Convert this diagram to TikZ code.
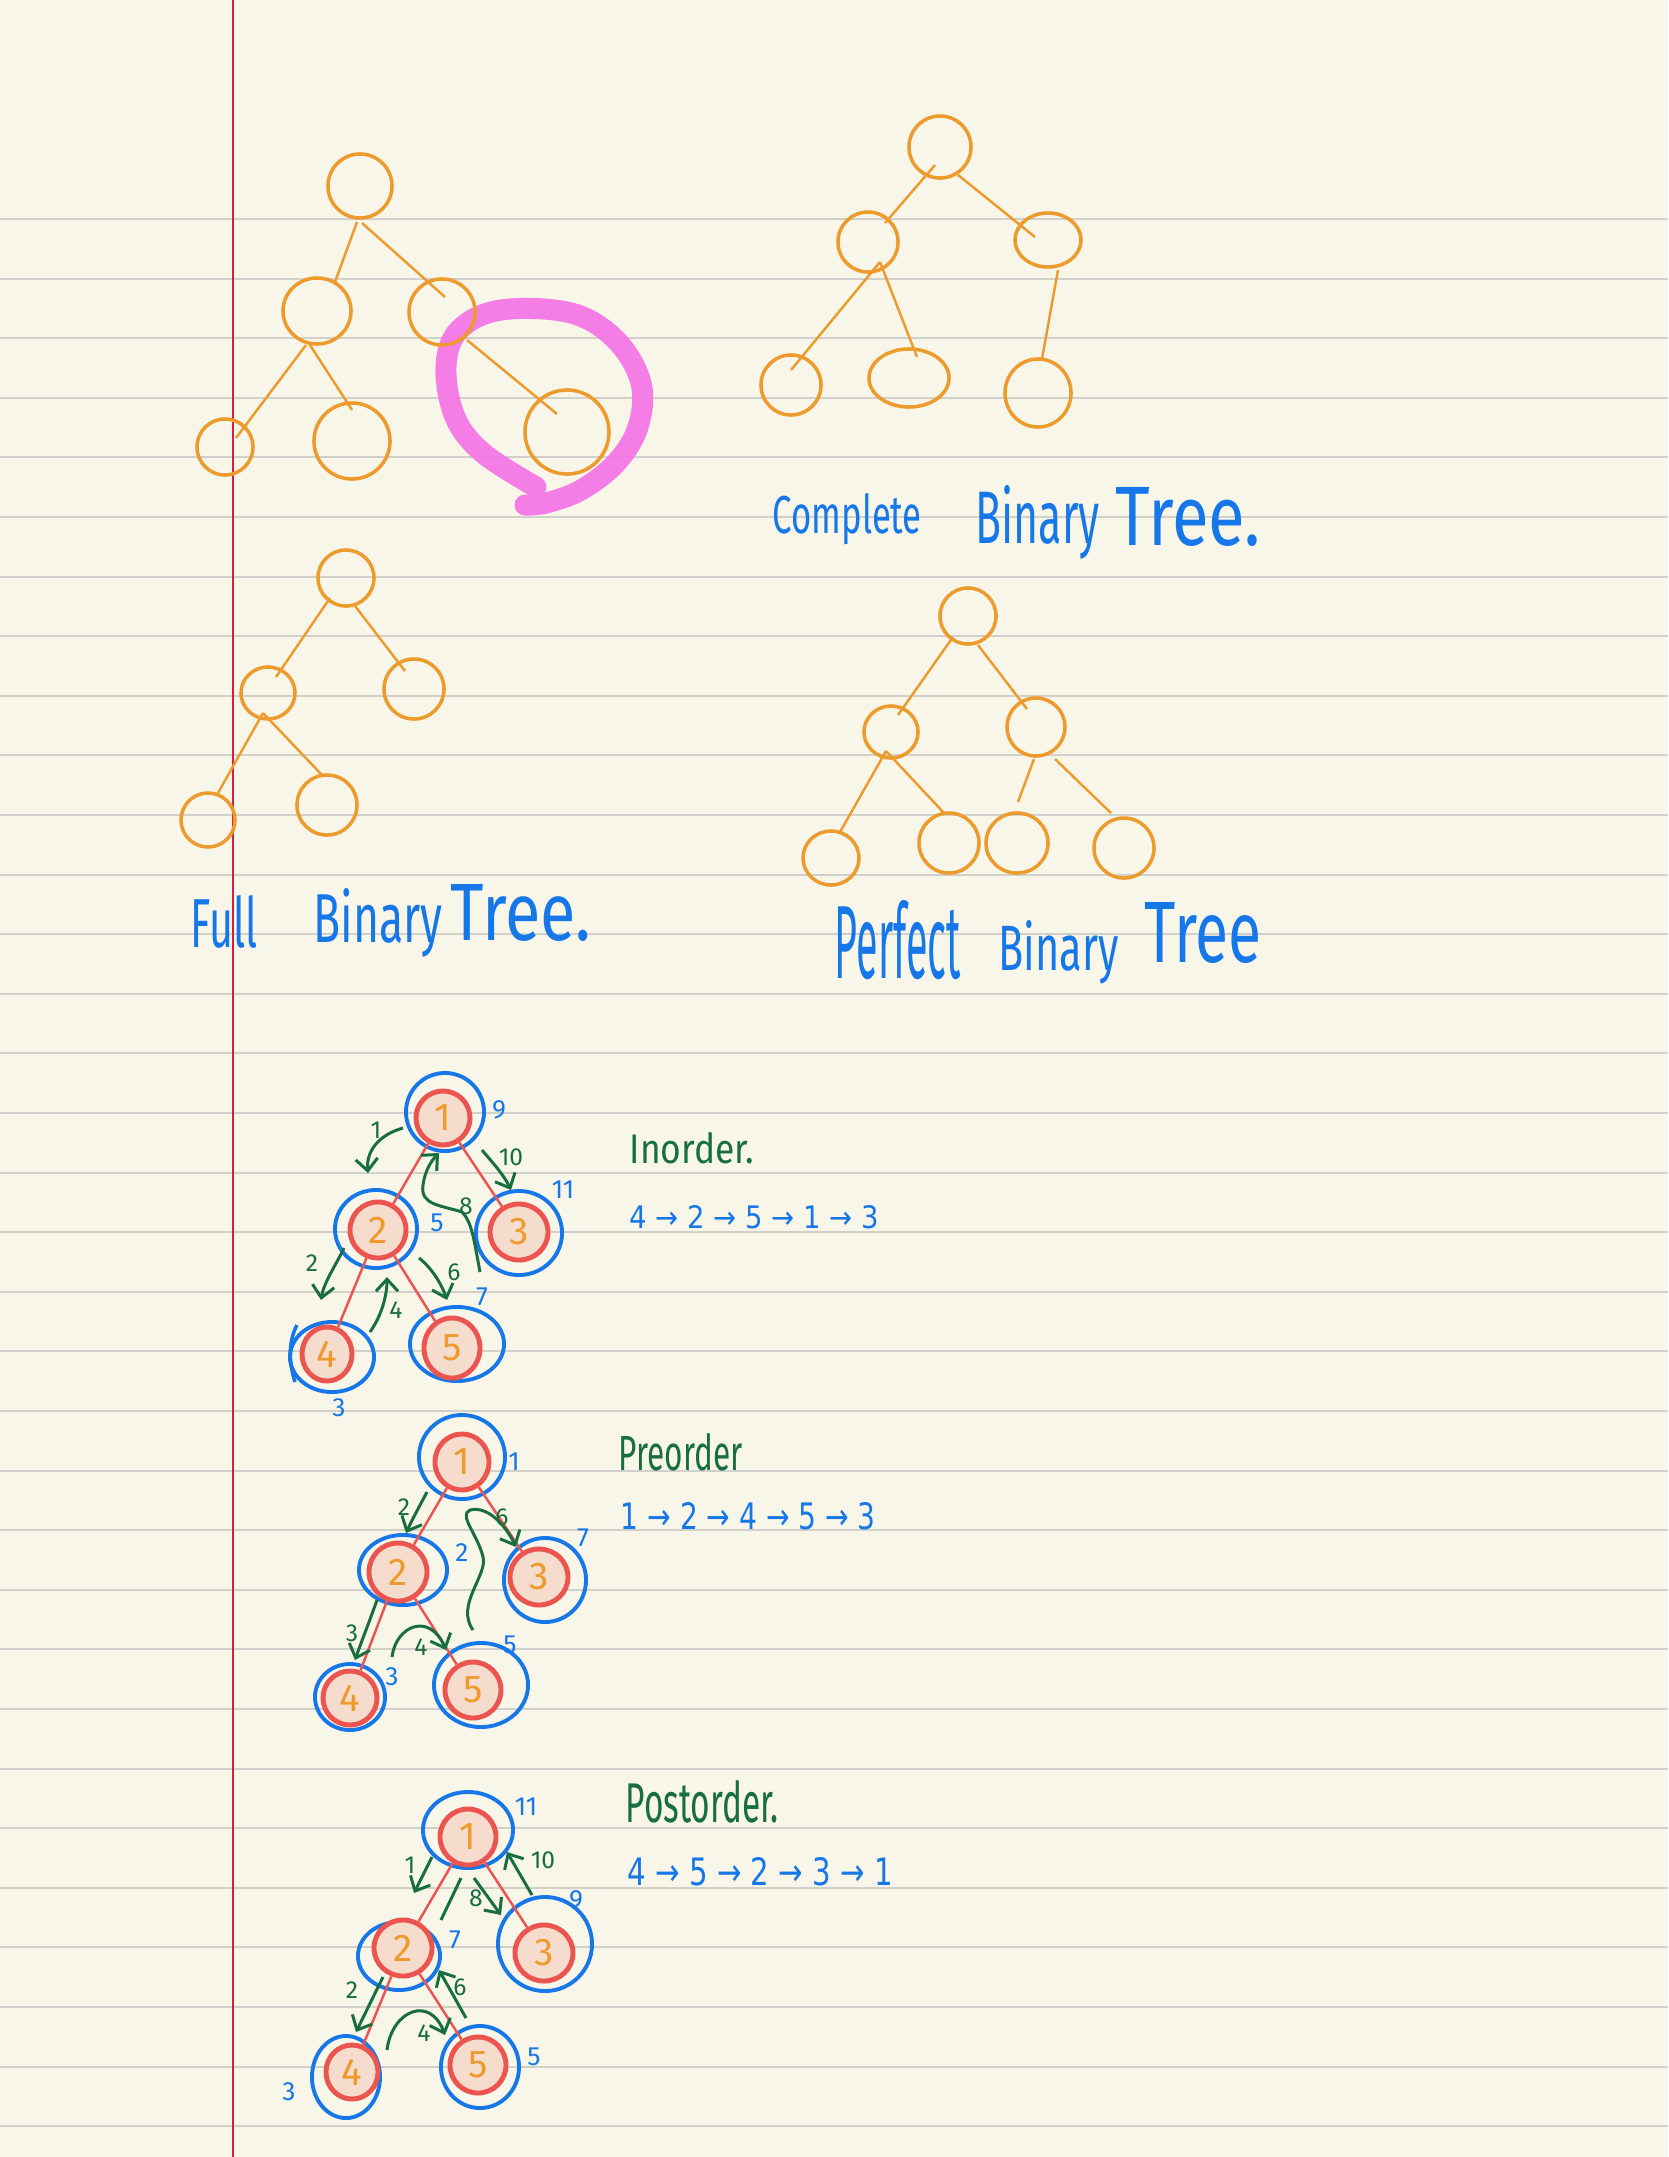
\documentclass[tikz,border=0pt]{standalone}
\usepackage{fontspec}
\usetikzlibrary{shapes.geometric,arrows.meta}
\newfontfamily\hand{Fira Sans}
\newfontfamily\arrfont{DejaVu Sans}
\definecolor{bg}{RGB}{248,245,233}
\definecolor{rulec}{RGB}{210,208,203}
\definecolor{marginc}{RGB}{214,30,62}
\definecolor{orc}{RGB}{238,155,45}
\definecolor{bluec}{RGB}{22,119,232}
\definecolor{greenc}{RGB}{24,110,62}
\definecolor{redc}{RGB}{236,84,80}
\definecolor{peach}{RGB}{246,220,204}
\definecolor{pinkc}{RGB}{244,115,230}
\tikzset{
  onode/.style 2 args={ellipse, draw=orc, line width=1pt, minimum width=#1*0.02cm, minimum height=#2*0.02cm, inner sep=0pt},
  oedge/.style={draw=orc, line width=0.7pt},
  rnode/.style 2 args={ellipse, draw=redc, fill=peach, line width=1.4pt, minimum width=#1*0.02cm, minimum height=#2*0.02cm, inner sep=0pt, text=orc, font=\hand\fontsize{11}{11}\selectfont},
  bnode/.style 2 args={ellipse, draw=bluec, line width=1.1pt, minimum width=#1*0.02cm, minimum height=#2*0.02cm, inner sep=0pt},
  redge/.style={draw=redc, line width=0.7pt},
  garrow/.style={draw=greenc, line width=0.85pt, -{Straight Barb[length=1.2mm,width=2.2mm]}},
  gline/.style={draw=greenc, line width=0.85pt},
  bl/.style={text=bluec, font=\hand\fontsize{7.5}{7.5}\selectfont, inner sep=0pt},
  gl/.style={text=greenc, font=\hand\fontsize{7}{7}\selectfont, inner sep=0pt},
  txt/.style={anchor=base west, inner sep=0pt},
}
\begin{document}
\begin{tikzpicture}[x=0.01cm,y=-0.01cm]
\useasboundingbox (0,0) rectangle (1668,2157);
\fill[bg] (0,0) rectangle (1668,2157);
% ruled lines
\foreach \k in {0,...,32}{
  \draw[rulec, line width=0.6pt] (0,{219+\k*59.6}) -- (1668,{219+\k*59.6});
}
\draw[marginc, line width=0.6pt] (233,0) -- (233,2157);

% pink highlight loop
\draw[pinkc, line width=0.21cm, line cap=round, line join=round, opacity=0.92]
  plot[smooth, tension=0.6] coordinates {(536,487) (483,453) (455,417) (446,367) (459,330) (501,310) (571,313) (616,340) (641,383) (638,427) (616,463) (581,490) (546,503) (525,505)};

% ---------- Tree 1 ----------
\node[onode={32}{32}] (A1) at (360,186) {};
\node[onode={34}{33}] (B1) at (317,311) {};
\node[onode={33}{33}] (C1) at (442,312) {};
\node[onode={28}{28}] (D1) at (225,447) {};
\node[onode={38}{38}] (E1) at (352,441) {};
\node[onode={42}{42}] (F1) at (567,432) {};
\draw[oedge] ([shift={(-3,36)}]A1.center) -- ([shift={(18,-29)}]B1.center);
\draw[oedge] ([shift={(2,37)}]A1.center) -- ([shift={(3,-15)}]C1.center);
\draw[oedge] ([shift={(-11,34)}]B1.center) -- ([shift={(11,-9)}]D1.center);
\draw[oedge] ([shift={(-7,34)}]B1.center) -- ([shift={(0,-31)}]E1.center);
\draw[oedge] ([shift={(25,28)}]C1.center) -- ([shift={(-10,-18)}]F1.center);

% ---------- Tree 2 (complete) ----------
\node[onode={31}{31}] (A2) at (940,147) {};
\node[onode={30}{30}] (B2) at (868,242) {};
\node[onode={33}{27}] (C2) at (1048,240) {};
\node[onode={30}{30}] (D2) at (791,385) {};
\node[onode={40}{29}] (E2) at (909,378) {};
\node[onode={33}{34}] (F2) at (1038,393) {};
\draw[oedge] ([shift={(-5,18)}]A2.center) -- ([shift={(17,-19)}]B2.center);
\draw[oedge] ([shift={(18,28)}]A2.center) -- ([shift={(-13,-3)}]C2.center);
\draw[oedge] ([shift={(12,20)}]B2.center) -- ([shift={(0,-15)}]D2.center);
\draw[oedge] ([shift={(12,20)}]B2.center) -- ([shift={(8,-21)}]E2.center);
\draw[oedge] ([shift={(10,30)}]C2.center) -- ([shift={(4,-34)}]F2.center);
\node[txt, text=bluec] (tc1) at (772,533) {\resizebox{1.49cm}{0.40cm}{\hand Complete}};
\node[txt, text=bluec] (tc2) at (975,543) {\resizebox{1.24cm}{0.58cm}{\hand Binary}};
\node[txt, text=bluec] (tc3) at (1115,545) {\resizebox{1.45cm}{0.58cm}{\hand Tree.}};

% ---------- Tree 3 (full) ----------
\node[onode={28}{28}] (A3) at (346,578) {};
\node[onode={27}{26}] (B3) at (268,693) {};
\node[onode={30}{30}] (C3) at (414,689) {};
\node[onode={27}{27}] (D3) at (208,820) {};
\node[onode={30}{30}] (E3) at (327,805) {};
\draw[oedge] ([shift={(-16,20)}]A3.center) -- ([shift={(8,-16)}]B3.center);
\draw[oedge] ([shift={(9,28)}]A3.center) -- ([shift={(-9,-18)}]C3.center);
\draw[oedge] ([shift={(-5,20)}]B3.center) -- ([shift={(10,-27)}]D3.center);
\draw[oedge] ([shift={(-5,20)}]B3.center) -- ([shift={(-5,-30)}]E3.center);
\node[txt, text=bluec] (tf1) at (190,947) {\resizebox{0.67cm}{0.52cm}{\hand Full}};
\node[txt, text=bluec] (tf2) at (313,942) {\resizebox{1.29cm}{0.54cm}{\hand Binary}};
\node[txt, text=bluec] (tf3) at (450,940) {\resizebox{1.40cm}{0.56cm}{\hand Tree.}};

% ---------- Tree 4 (perfect) ----------
\node[onode={28}{28}] (A4) at (968,616) {};
\node[onode={27}{26}] (B4) at (891,732) {};
\node[onode={29}{29}] (C4) at (1036,727) {};
\node[onode={28}{27}] (D4) at (831,858) {};
\node[onode={30}{30}] (E4) at (949,843) {};
\node[onode={31}{30}] (F4) at (1017,843) {};
\node[onode={30}{30}] (G4) at (1124,848) {};
\draw[oedge] ([shift={(-15,21)}]A4.center) -- ([shift={(7,-17)}]B4.center);
\draw[oedge] ([shift={(10,29)}]A4.center) -- ([shift={(-9,-18)}]C4.center);
\draw[oedge] ([shift={(-5,19)}]B4.center) -- ([shift={(9,-26)}]D4.center);
\draw[oedge] ([shift={(-5,19)}]B4.center) -- ([shift={(-5,-30)}]E4.center);
\draw[oedge] ([shift={(-2,32)}]C4.center) -- ([shift={(1,-41)}]F4.center);
\draw[oedge] ([shift={(19,32)}]C4.center) -- ([shift={(-13,-35)}]G4.center);
\node[txt, text=bluec] (tp1) at (834,978) {\resizebox{1.26cm}{0.78cm}{\hand Perfect}};
\node[txt, text=bluec] (tp2) at (998,970) {\resizebox{1.20cm}{0.50cm}{\hand Binary}};
\node[txt, text=bluec] (tp3) at (1144,962) {\resizebox{1.17cm}{0.60cm}{\hand Tree}};

% ---------- Inorder ----------
\node[bnode={39}{39}] (ib1) at (445,1112) {};
\node[bnode={41}{39}] (ib2) at (376,1229) {};
\node[bnode={43}{42}] (ib3) at (519,1233) {};
\node[bnode={42}{35}] (ib4) at (332,1357) {};
\node[bnode={47}{37}] (ib5) at (457,1344) {};
\node[rnode={27}{27}] (i1) at (443,1118) {1};
\node[rnode={28}{28}] (i2) at (378,1230) {2};
\node[rnode={29}{28}] (i3) at (519,1232) {3};
\node[rnode={25}{27}] (i4) at (327,1354) {4};
\node[rnode={28}{30}] (i5) at (452,1348) {5};
\draw[redge] (i1) -- (i2);
\draw[redge] (i1) -- (i3);
\draw[redge] (i2) -- (i4);
\draw[redge] (i2) -- (i5);
\draw[bluec, line width=1pt] (295,1382) .. controls (288,1360) and (289,1340) .. (297,1325);
\draw[garrow] (403,1128) .. controls (378,1135) and (366,1152) .. (368,1173);
\draw[garrow] (344,1248) .. controls (336,1265) and (324,1282) .. (321,1300);
\draw[garrow] (370,1332) .. controls (382,1315) and (387,1295) .. (387,1277);
\draw[garrow] (419,1258) .. controls (432,1268) and (442,1285) .. (447,1300);
\draw[garrow] (480,1272) .. controls (474,1240) and (472,1222) .. (462,1212) .. controls (440,1205) and (420,1205) .. (423,1185) .. controls (425,1170) and (432,1160) .. (439,1153);
\draw[garrow] (482,1150) .. controls (492,1162) and (504,1175) .. (511,1190);
\node[gl] (ig1) at (376,1130) {1};
\node[gl] (ig2) at (312,1263) {2};
\node[gl] (ig4) at (396,1310) {4};
\node[gl] (ig6) at (454,1272) {6};
\node[gl] (ig8) at (466,1206) {8};
\node[gl] (ig10) at (511,1157) {10};
\node[bl] (in9) at (499,1110) {9};
\node[bl] (in5) at (437,1223) {5};
\node[bl] (in11) at (563,1190) {11};
\node[bl] (in7) at (482,1297) {7};
\node[bl] (in3) at (339,1408) {3};
\node[txt, text=greenc] (tin) at (629,1163) {\resizebox{1.24cm}{0.31cm}{\hand Inorder.}};
\node[txt, text=bluec] (sin) at (629,1228) {\resizebox{2.49cm}{0.23cm}{\arrfont 4 → 2 → 5 → 1 → 3}};

% ---------- Preorder ----------
\node[bnode={43}{42}] (pb1) at (462,1457) {};
\node[bnode={44}{35}] (pb2) at (403,1570) {};
\node[bnode={41}{42}] (pb3) at (545,1580) {};
\node[bnode={35}{33}] (pb4) at (350,1697) {};
\node[bnode={47}{42}] (pb5) at (481,1685) {};
\node[rnode={27}{28}] (p1) at (462,1462) {1};
\node[rnode={29}{29}] (p2) at (398,1572) {2};
\node[rnode={29}{28}] (p3) at (539,1577) {3};
\node[rnode={27}{27}] (p4) at (350,1698) {4};
\node[rnode={28}{28}] (p5) at (473,1690) {5};
\draw[redge] (p1) -- (p2);
\draw[redge] (p1) -- (p3);
\draw[redge] (p2) -- (p4);
\draw[redge] (p2) -- (p5);
\draw[garrow] (427,1492) .. controls (420,1505) and (412,1520) .. (406,1533);
\draw[garrow] (473,1630) .. controls (455,1605) and (488,1575) .. (483,1557) .. controls (478,1535) and (458,1515) .. (470,1510) .. controls (490,1505) and (508,1530) .. (516,1547);
\draw[garrow] (377,1600) .. controls (370,1620) and (362,1640) .. (355,1660);
\draw[garrow] (392,1657) .. controls (396,1625) and (430,1612) .. (446,1650);
\node[gl] (pg2) at (404,1507) {2};
\node[gl] (pg6) at (502,1517) {6};
\node[gl] (pg3) at (352,1633) {3};
\node[gl] (pg4) at (421,1647) {4};
\node[bl] (pn1) at (514,1462) {1};
\node[bl] (pn2) at (462,1553) {2};
\node[bl] (pn7) at (583,1538) {7};
\node[bl] (pn3) at (392,1677) {3};
\node[bl] (pn5) at (510,1645) {5};
\node[txt, text=greenc] (tpr) at (618,1470) {\resizebox{1.24cm}{0.37cm}{\hand Preorder}};
\node[txt, text=bluec] (spr) at (620,1529) {\resizebox{2.55cm}{0.27cm}{\arrfont 1 → 2 → 4 → 5 → 3}};

% ---------- Postorder ----------
\node[bnode={45}{38}] (qb1) at (468,1830) {};
\node[bnode={41}{34}] (qb2) at (399,1956) {};
\node[bnode={47}{47}] (qb3) at (545,1944) {};
\node[bnode={34}{41}] (qb4) at (346,2077) {};
\node[bnode={39}{41}] (qb5) at (480,2067) {};
\node[rnode={28}{28}] (q1) at (468,1837) {1};
\node[rnode={29}{28}] (q2) at (403,1948) {2};
\node[rnode={29}{28}] (q3) at (544,1953) {3};
\node[rnode={26}{27}] (q4) at (352,2072) {4};
\node[rnode={28}{28}] (q5) at (478,2065) {5};
\draw[redge] (q1) -- (q2);
\draw[redge] (q1) -- (q3);
\draw[redge] (q2) -- (q4);
\draw[redge] (q2) -- (q5);
\draw[garrow] (432,1857) -- (414,1893);
\draw[gline] (461,1878) -- (441,1920);
\draw[garrow] (474,1878) -- (501,1915);
\draw[garrow] (532,1895) -- (507,1852);
\draw[garrow] (383,1977) -- (356,2032);
\draw[garrow] (387,2050) .. controls (392,2010) and (430,1995) .. (445,2035);
\draw[garrow] (466,2018) -- (439,1970);
\node[gl] (qg1) at (410,1865) {1};
\node[gl] (qg8) at (476,1898) {8};
\node[gl] (qg10) at (543,1860) {10};
\node[gl] (qg2) at (352,1990) {2};
\node[gl] (qg4) at (424,2033) {4};
\node[gl] (qg6) at (460,1987) {6};
\node[bl] (qn11) at (526,1807) {11};
\node[bl] (qn9) at (576,1900) {9};
\node[bl] (qn7) at (455,1940) {7};
\node[bl] (qn5) at (534,2057) {5};
\node[bl] (qn3) at (289,2092) {3};
\node[txt, text=greenc] (tpo) at (625,1822) {\resizebox{1.53cm}{0.42cm}{\hand Postorder.}};
\node[txt, text=bluec] (spo) at (627,1885) {\resizebox{2.65cm}{0.28cm}{\arrfont 4 → 5 → 2 → 3 → 1}};
\end{tikzpicture}
\end{document}
